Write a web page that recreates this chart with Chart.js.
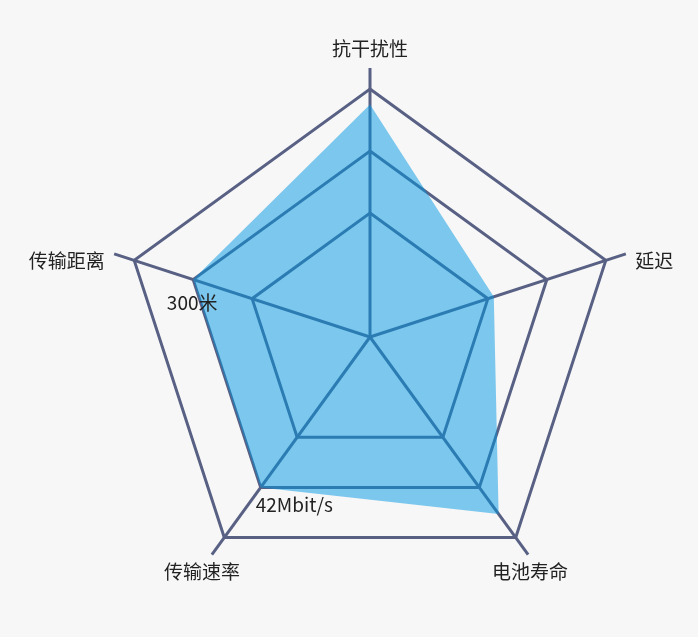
<!DOCTYPE html>
<html>
<head>
<meta charset="utf-8">
<script src="https://cdn.jsdelivr.net/npm/chart.js@4/dist/chart.umd.min.js"></script>
<style>
  html, body { margin: 0; padding: 0; background: #f7f7f7; }
  #wrap { position: relative; width: 698px; height: 637px; }
</style>
</head>
<body>
<div id="wrap"><canvas id="c"></canvas></div>
<script>
const categories = ['抗干扰性', '延迟', '电池寿命', '传输速率', '传输距离'];
const seriesValues = [3.75, 2.1, 3.53, 3.0, 3.0];
const valueLabels = ['', '', '', '42Mbit/s', '300米'];
const ringTicks = [2, 3, 4];
const scaleMax = 4.34;

const FONT = '"Noto Sans CJK SC", "Noto Sans", sans-serif';
const LINE = '#586084';

const labelPlugin = {
  id: 'labels',
  afterDraw(chart) {
    const ctx = chart.ctx;
    const r = chart.scales.r;
    ctx.save();
    ctx.fillStyle = '#222';
    ctx.font = '19px ' + FONT;
    categories.forEach((name, i) => {
      const p = r.getPointPosition(i, r.drawingArea + 10);
      const c = Math.cos(p.angle), s = Math.sin(p.angle);
      let x = p.x, y = p.y;
      if (Math.abs(c) < 0.01) {
        ctx.textAlign = 'center';
        ctx.textBaseline = s < 0 ? 'bottom' : 'top';
      } else if (s > 0.5) {
        ctx.textAlign = 'center';
        ctx.textBaseline = 'top';
        x += c > 0 ? -4 : -4;
      } else {
        ctx.textAlign = c > 0 ? 'left' : 'right';
        ctx.textBaseline = 'middle';
        y += 10;
      }
      ctx.fillText(name, x, y);
    });
    // value labels
    const meta = chart.getDatasetMeta(0);
    ctx.font = '19px ' + FONT;
    valueLabels.forEach((t, i) => {
      if (!t) return;
      const el = meta.data[i];
      if (i === 4) {
        ctx.textAlign = 'center';
        ctx.textBaseline = 'middle';
        ctx.fillText(t, el.x - 1, el.y + 23);
      } else {
        ctx.textAlign = 'left';
        ctx.textBaseline = 'middle';
        ctx.fillText(t, el.x - 5, el.y + 17);
      }
    });
    ctx.restore();
  }
};

new Chart(document.getElementById('c'), {
  type: 'radar',
  data: {
    labels: categories,
    datasets: [{
      data: seriesValues,
      backgroundColor: 'rgba(0,152,228,0.5)',
      borderWidth: 0,
      borderColor: 'rgba(0,0,0,0)',
      pointRadius: 0,
      pointHoverRadius: 0,
      fill: true
    }]
  },
  options: {
    responsive: true,
    maintainAspectRatio: false,
    animation: false,
    layout: { padding: { left: 101, right: 59, top: 68, bottom: 31 } },
    plugins: { legend: { display: false }, tooltip: { enabled: false } },
    scales: {
      r: {
        min: 0,
        max: scaleMax,
        afterBuildTicks(scale) {
          scale.ticks = [{ value: 0 }].concat(ringTicks.map(v => ({ value: v }))).concat([{ value: scaleMax }]);
        },
        ticks: { display: false },
        pointLabels: { display: false },
        grid: {
          lineWidth: 3,
          color(ctx) {
            const v = ctx.tick ? ctx.tick.value : 0;
            return ringTicks.includes(v) ? LINE : 'rgba(0,0,0,0)';
          }
        },
        angleLines: { color: LINE, lineWidth: 3 }
      }
    }
  },
  plugins: [labelPlugin]
});
</script>
</body>
</html>
